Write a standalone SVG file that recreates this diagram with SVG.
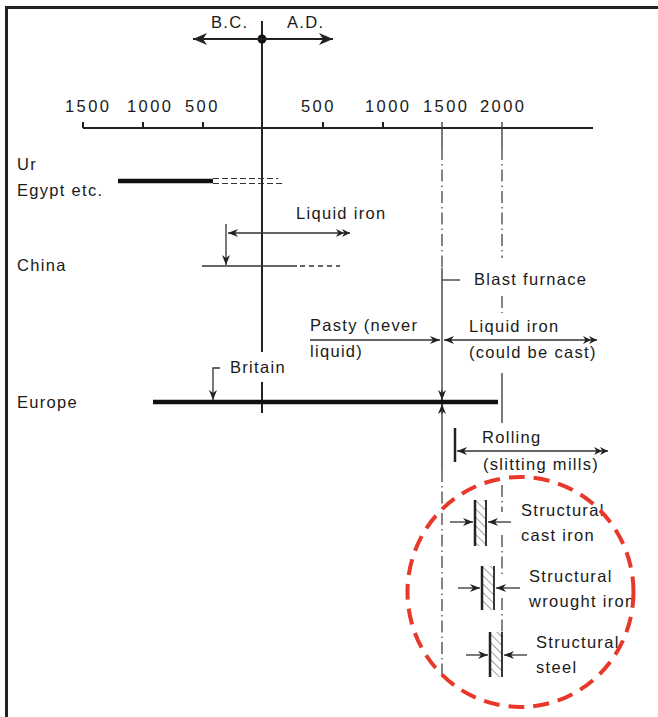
<svg xmlns="http://www.w3.org/2000/svg" width="658" height="717" viewBox="0 0 658 717">
<defs>
<style>
text{font-family:"Liberation Sans",Arial,sans-serif;font-size:16.5px;fill:#1a1a1a;letter-spacing:1.3px}
.num{font-size:16.5px;letter-spacing:2.4px}
.ln{stroke:#222;stroke-width:2;fill:none}
.thin{stroke:#333;stroke-width:1.3;fill:none}
.dd{stroke:#444;stroke-width:1.3;fill:none;stroke-dasharray:12 4 1.5 4}
.bar{stroke:#111;stroke-width:4.5;fill:none}
</style>
<marker id="ah" markerUnits="userSpaceOnUse" markerWidth="11" markerHeight="9" refX="10" refY="4" orient="auto-start-reverse" overflow="visible"><path d="M0,0 L10,4 L0,8 L3,4 Z" fill="#222"/></marker>
<marker id="ah2" markerUnits="userSpaceOnUse" markerWidth="15" markerHeight="9" refX="14" refY="4" orient="auto-start-reverse" overflow="visible"><path d="M0,0 L8,4 L0,8 L2.5,4 Z M6,0 L14,4 L6,8 L8.5,4 Z" fill="#222"/></marker>
<marker id="big" markerUnits="userSpaceOnUse" markerWidth="15" markerHeight="13" refX="14" refY="6" orient="auto-start-reverse" overflow="visible"><path d="M0,0 L14,6 L0,12 L4,6 Z" fill="#222"/></marker>
<pattern id="hatch" patternUnits="userSpaceOnUse" width="6" height="6" patternTransform="rotate(-45)"><line x1="0" y1="0" x2="0" y2="6" stroke="#444" stroke-width="1"/></pattern>
</defs>
<rect x="0" y="0" width="658" height="717" fill="#fff"/>
<g id="frame">
<line x1="6.5" y1="6" x2="6.5" y2="717" stroke="#222" stroke-width="3"/>
<line x1="5" y1="7.5" x2="658" y2="7.5" stroke="#222" stroke-width="3"/>
</g>
<g id="axis">
<line class="ln" x1="262" y1="21" x2="262" y2="352"/>
<line class="ln" x1="262" y1="382" x2="262" y2="413"/>
<circle cx="262" cy="39" r="4.5" fill="#111"/>
<line class="ln" x1="193" y1="39" x2="333" y2="39" marker-start="url(#big)" marker-end="url(#big)"/>
<text x="211" y="28">B.C.</text>
<text x="287" y="28">A.D.</text>
<line class="ln" x1="83" y1="128" x2="593" y2="128"/>
<path class="ln" d="M83,122V128 M143,122V128 M203,122V128 M323,122V128 M383,122V128"/>
<text class="num" x="65" y="112">1500</text>
<text class="num" x="127" y="112">1000</text>
<text class="num" x="185" y="112">500</text>
<text class="num" x="301" y="112">500</text>
<text class="num" x="365" y="112">1000</text>
<text class="num" x="423" y="112">1500</text>
<text class="num" x="480" y="112">2000</text>
</g>
<g id="connectors">
<line class="thin" x1="442" y1="122" x2="442" y2="148"/>
<line class="dd" x1="442" y1="148" x2="442" y2="268"/>
<line class="thin" x1="442" y1="268" x2="442" y2="470"/>
<line class="dd" x1="442" y1="470" x2="442" y2="677"/>
<line class="thin" x1="502" y1="122" x2="502" y2="148"/>
<line class="dd" x1="502" y1="148" x2="502" y2="258"/>
<line class="dd" x1="502" y1="296" x2="502" y2="313"/>
<line class="thin" x1="502" y1="373" x2="502" y2="423"/>
<line class="dd" x1="502" y1="485" x2="502" y2="512"/>
<line class="dd" x1="502" y1="535" x2="502" y2="578"/>
<line class="dd" x1="502" y1="598" x2="502" y2="632"/>
</g>
<g id="ur-egypt">
<text x="17" y="170">Ur</text>
<text x="17" y="196">Egypt etc.</text>
<line class="bar" x1="118" y1="181" x2="213" y2="181"/>
<line x1="213" y1="178.5" x2="278" y2="178.5" stroke="#333" stroke-width="1.2" stroke-dasharray="6 3"/>
<line x1="213" y1="183.5" x2="284" y2="183.5" stroke="#333" stroke-width="1.2" stroke-dasharray="6 3"/>
</g>
<g id="china">
<text x="17" y="271">China</text>
<line class="thin" x1="202" y1="266" x2="297" y2="266"/>
<line class="thin" x1="300" y1="266" x2="340" y2="266" stroke-dasharray="5 4"/>
<line class="thin" x1="226" y1="224" x2="226" y2="265" marker-end="url(#ah)"/>
<line class="thin" x1="228" y1="233" x2="350" y2="233" marker-start="url(#ah)" marker-end="url(#ah2)"/>
<text x="296" y="219">Liquid iron</text>
</g>
<g id="blast-furnace">
<line class="thin" x1="442" y1="280" x2="460" y2="280"/>
<text x="474" y="285">Blast furnace</text>
</g>
<g id="pasty">
<line class="thin" x1="310" y1="340" x2="440" y2="340" marker-end="url(#ah)"/>
<text x="310" y="331">Pasty (never</text>
<text x="310" y="357">liquid)</text>
</g>
<g id="liquid-iron">
<line class="thin" x1="444" y1="340" x2="597" y2="340" marker-start="url(#ah)" marker-end="url(#ah2)"/>
<text x="469" y="332">Liquid iron</text>
<text x="469" y="358">(could be cast)</text>
</g>
<g id="europe">
<text x="17" y="408">Europe</text>
<line class="bar" x1="153" y1="402" x2="498" y2="402" stroke-width="4"/>
<line class="thin" x1="442" y1="390" x2="442" y2="400" marker-end="url(#ah)"/>
<line class="thin" x1="442" y1="414" x2="442" y2="404" marker-end="url(#ah)"/>
</g>
<g id="britain">
<path class="thin" d="M220,368 H213 V400" marker-end="url(#ah)"/>
<text x="230" y="373">Britain</text>
</g>
<g id="rolling">
<line x1="455" y1="428" x2="455" y2="462" stroke="#222" stroke-width="2.5"/>
<line class="thin" x1="457" y1="451" x2="608" y2="451" marker-start="url(#ah)" marker-end="url(#ah2)"/>
<text x="482" y="443">Rolling</text>
<text x="483" y="470">(slitting mills)</text>
</g>
<g id="cast-iron">
<rect x="475" y="500" width="11" height="46" fill="url(#hatch)"/>
<line x1="475" y1="500" x2="475" y2="546" stroke="#222" stroke-width="2.5"/>
<line x1="486" y1="500" x2="486" y2="546" stroke="#222" stroke-width="1.8"/>
<line class="thin" x1="450" y1="522" x2="473" y2="522" marker-end="url(#ah)"/>
<line class="thin" x1="511" y1="522" x2="488" y2="522" marker-end="url(#ah)"/>
<text x="521" y="516">Structural</text>
<text x="521" y="541">cast iron</text>
</g>
<g id="wrought-iron">
<rect x="482" y="566" width="12" height="44" fill="url(#hatch)"/>
<line x1="482" y1="566" x2="482" y2="610" stroke="#222" stroke-width="2.5"/>
<line x1="494" y1="566" x2="494" y2="610" stroke="#222" stroke-width="1.8"/>
<line class="thin" x1="458" y1="588" x2="480" y2="588" marker-end="url(#ah)"/>
<line class="thin" x1="520" y1="588" x2="496" y2="588" marker-end="url(#ah)"/>
<text x="529" y="582">Structural</text>
<text x="529" y="607">wrought iron</text>
</g>
<g id="steel">
<rect x="490" y="632" width="12" height="45" fill="url(#hatch)"/>
<line x1="490" y1="632" x2="490" y2="677" stroke="#222" stroke-width="2.5"/>
<line x1="502" y1="632" x2="502" y2="677" stroke="#222" stroke-width="1.8"/>
<line class="thin" x1="466" y1="655" x2="488" y2="655" marker-end="url(#ah)"/>
<line class="thin" x1="527" y1="655" x2="504" y2="655" marker-end="url(#ah)"/>
<text x="536" y="648">Structural</text>
<text x="536" y="673">steel</text>
</g>
<g id="highlight">
<ellipse cx="520.5" cy="592" rx="113" ry="115" fill="none" stroke="#e8382a" stroke-width="4" stroke-dasharray="16 9"/>
</g>
</svg>
